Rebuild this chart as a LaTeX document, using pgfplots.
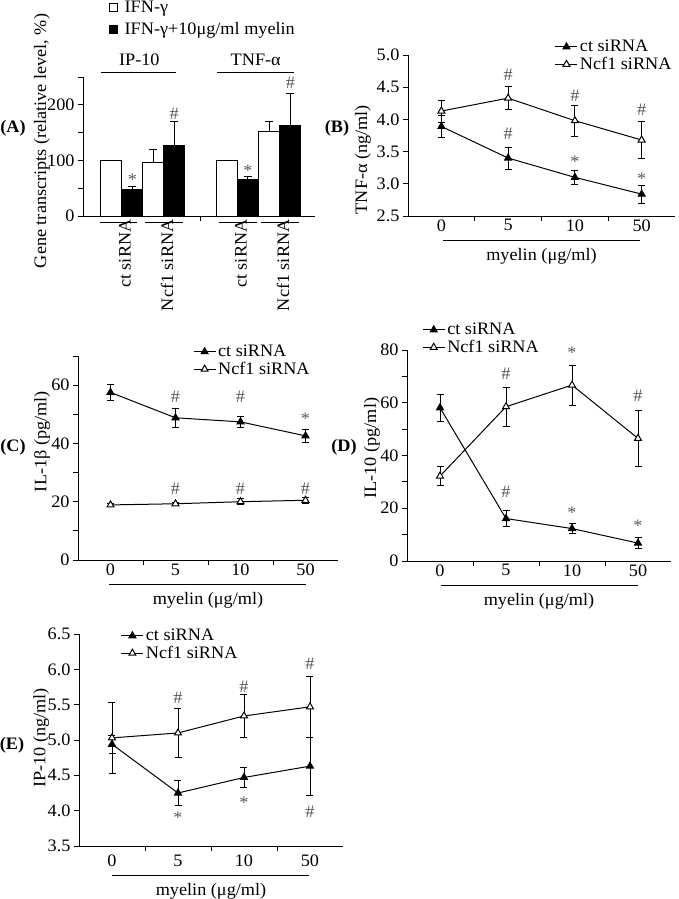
\documentclass[border=0pt]{standalone}
\usepackage{fontspec}
\setmainfont{Liberation Serif}[FakeStretch=1.04]
\usepackage{pgfplots}
\pgfplotsset{compat=1.18}
\newcommand\fsz{\fontsize{17.5}{21}\selectfont}
\definecolor{annot}{gray}{0.35}

\pgfplotsset{
  panel/.style={
    scale only axis, anchor=south west, clip=false,
    axis x line*=bottom, axis y line*=left,
    axis line style={line width=0.9pt,-},
    every tick/.style={black, line width=0.9pt},
    tick align=outside, major tick length=5pt, minor tick length=5pt,
    tick label style={font=\fsz},
    label style={font=\fsz},
    /pgf/number format/assume math mode=true,
    legend style={draw=none, fill=none, font=\fsz, inner sep=0pt, row sep=0pt},
    legend cell align=left,
  },
  dose/.style={
    xmin=-0.5, xmax=3.5,
    xtick={0.5,1.5,2.5}, xticklabels={,,},
    extra x ticks={0,1,2,3}, extra x tick labels={0,5,10,50},
    extra x tick style={major tick length=0pt},
    legend image code/.code={\draw[mark repeat=2,mark phase=2,##1] plot coordinates {(0pt,0pt) (11pt,0pt) (22pt,0pt)};},
    xlabel={\rule{197pt}{0.8pt}\\[-2pt]myelin (μg/ml)},
    xlabel style={align=center, anchor=north, inner sep=0pt, at={(axis description cs:0.5,0)}, yshift=-24pt},
  },
  ct/.style={black, line width=1pt, mark=triangle*, mark size=4pt, mark options={solid, fill=black},
    error bars/.cd, y dir=both, y explicit, error bar style={line width=0.9pt},
    error mark options={rotate=90, mark size=3.5pt, line width=0.9pt}},
  nc/.style={black, line width=1pt, mark=triangle*, mark size=4pt, mark options={solid, fill=white},
    error bars/.cd, y dir=both, y explicit, error bar style={line width=0.9pt},
    error mark options={rotate=90, mark size=3.5pt, line width=0.9pt}},
  bars/.style={ybar, bar width=1, bar shift=0pt, draw=black, line width=1pt,
    error bars/.cd, y dir=plus, y explicit, error bar style={line width=0.9pt},
    error mark options={rotate=90, mark size=4pt, line width=0.9pt}},
}
\tikzset{ann/.style={font=\fsz, text=annot, inner sep=0pt}, star/.style={ann, yshift=-2.7pt}}

\begin{document}
\begin{tikzpicture}
\useasboundingbox (0,0) rectangle (678pt,-899pt);

% (A) gene transcripts
\begin{axis}[panel, at={(83pt,-216pt)}, width=232pt, height=139pt,
  xmin=0, xmax=11, ymin=0, ymax=250,
  ytick={0,50,...,250}, yticklabels={0,,100,,200,},
  xtick={5.57}, xticklabels={},
  extra x ticks={1.8,3.8,7.3,9.3},
  extra x tick labels={ct siRNA,Ncf1 siRNA,ct siRNA,Ncf1 siRNA},
  extra x tick style={major tick length=0pt, xticklabel style={rotate=90, anchor=east, yshift=-4pt}},
  ylabel={Gene transcripts (relative level, \%)},
  ylabel style={at={(axis description cs:-0.177,0.54)}, anchor=center},
  legend style={at={(axis description cs:0.112,1.56)}, anchor=north west, row sep=4pt},
  legend image code/.code={\draw[#1, line width=1pt] (0pt,-4pt) rectangle (8pt,4pt); \path[draw=none, fill=none] (0pt,0pt) -- (13pt,0pt);},
]
\addplot[fill=white, bars] coordinates {(1.32,100) +- (0,0) (3.33,97) +- (0,22) (6.82,100) +- (0,0) (8.83,151.8) +- (0,18)};
\addplot[fill=black, bars] coordinates {(2.34,47) +- (0,7) (4.32,126.6) +- (0,43) (7.82,65) +- (0,6) (9.83,162) +- (0,58)};
\legend{IFN-γ, IFN-γ+10μg/ml myelin}
\draw[line width=0.9pt] (axis cs:0.84,258) -- (axis cs:4.41,258);
\draw[line width=0.9pt] (axis cs:6.37,258) -- (axis cs:10.0,258);
\node[font=\fsz] at (axis cs:2.67,281) {IP-10};
\node[font=\fsz] at (axis cs:8.19,281) {TNF-α};
\draw[line width=0.9pt] (axis cs:0.81,-12) -- (axis cs:2.57,-12);
\draw[line width=0.9pt] (axis cs:2.95,-12) -- (axis cs:4.76,-12);
\draw[line width=0.9pt] (axis cs:6.43,-12) -- (axis cs:8.24,-12);
\draw[line width=0.9pt] (axis cs:8.43,-12) -- (axis cs:10.24,-12);
\node[star] at (axis cs:2.34,69.6) {*};
\node[ann] at (axis cs:4.32,184.6) {\#};
\node[star] at (axis cs:7.82,86.5) {*};
\node[ann] at (axis cs:9.83,239) {\#};
\end{axis}

% (B) TNF-alpha
\begin{axis}[panel, dose, at={(408pt,-216pt)}, width=267pt, height=161pt,
  ymin=2.5, ymax=5.0, ytick={2.5,3,...,5}, yticklabels={2.5,3.0,3.5,4.0,4.5,5.0},
  ylabel={TNF-α (ng/ml)},
  ylabel style={at={(axis description cs:-0.169,0.35)}, anchor=center},
  legend style={at={(axis description cs:0.995,1.105)}, anchor=north east},
]
\addplot[ct] coordinates {(0,3.89) +- (0,0.17) (1,3.40) +- (0,0.17) (2,3.10) +- (0,0.11) (3,2.84) +- (0,0.14)};
\addplot[nc] coordinates {(0,4.13) +- (0,0.17) (1,4.33) +- (0,0.18) (2,3.98) +- (0,0.24) (3,3.68) +- (0,0.29)};
\legend{ct siRNA, Ncf1 siRNA}
\node[ann] at (axis cs:1,4.69) {\#};
\node[ann] at (axis cs:2,4.36) {\#};
\node[ann] at (axis cs:3,4.15) {\#};
\node[ann] at (axis cs:1,3.77) {\#};
\node[star] at (axis cs:2,3.39) {*};
\node[star] at (axis cs:3,3.12) {*};
\end{axis}

% (C) IL-1beta
\begin{axis}[panel, dose, at={(78pt,-560pt)}, width=260pt, height=204pt,
  ymin=0, ymax=70, ytick={0,10,...,70}, yticklabels={0,,20,,40,,60,},
  ylabel={IL-1β (pg/ml)},
  ylabel style={at={(axis description cs:-0.138,0.58)}, anchor=center},
  legend style={at={(axis description cs:0.442,1.064)}, anchor=north west},
]
\addplot[ct] coordinates {(0,57.5) +- (0,2.6) (1,48.8) +- (0,3.3) (2,47.4) +- (0,2.0) (3,42.6) +- (0,2.1)};
\addplot[nc] coordinates {(0,18.9) +- (0,0.5) (1,19.3) +- (0,0.6) (2,20.0) +- (0,1.0) (3,20.5) +- (0,1.0)};
\legend{ct siRNA, Ncf1 siRNA}
\node[ann] at (axis cs:1,56) {\#};
\node[ann] at (axis cs:2,56) {\#};
\node[star] at (axis cs:3,49.5) {*};
\node[ann] at (axis cs:1,24.6) {\#};
\node[ann] at (axis cs:2,24.6) {\#};
\node[ann] at (axis cs:3,24.6) {\#};
\end{axis}

% (D) IL-10
\begin{axis}[panel, dose, at={(407pt,-561pt)}, width=264pt, height=211pt,
  ymin=0, ymax=80, ytick={0,10,...,80}, yticklabels={0,,20,,40,,60,,80},
  ylabel={IL-10 (pg/ml)},
  ylabel style={at={(axis description cs:-0.133,0.535)}, anchor=center},
  legend style={at={(axis description cs:0.057,1.137)}, anchor=north west},
]
\addplot[ct] coordinates {(0,58.1) +- (0,5.2) (1,16.1) +- (0,3.0) (2,12.3) +- (0,2.0) (3,6.8) +- (0,2.0)};
\addplot[nc] coordinates {(0,32.2) +- (0,3.5) (1,58.5) +- (0,7.3) (2,66.7) +- (0,7.6) (3,46.5) +- (0,10.5)};
\legend{ct siRNA, Ncf1 siRNA}
\node[ann] at (axis cs:1,71.1) {\#};
\node[star] at (axis cs:2,80) {*};
\node[ann] at (axis cs:3,62.5) {\#};
\node[ann] at (axis cs:1,26.2) {\#};
\node[star] at (axis cs:2,19.2) {*};
\node[star] at (axis cs:3,14.4) {*};
\end{axis}

% (E) IP-10
\begin{axis}[panel, dose, at={(79pt,-846pt)}, width=264pt, height=212pt,
  ymin=3.5, ymax=6.5, ytick={3.5,4,...,6.5}, yticklabels={3.5,4.0,4.5,5.0,5.5,6.0,6.5},
  extra x tick style={major tick length=0pt, xticklabel style={yshift=-5pt}},
  xlabel style={yshift=-5pt},
  ylabel={IP-10 (ng/ml)},
  ylabel style={at={(axis description cs:-0.143,0.51)}, anchor=center},
  legend style={at={(axis description cs:0.158,1.033)}, anchor=north west},
]
\addplot[ct] coordinates {(0,4.94) +- (0,0.13) (1,4.25) +- (0,0.18) (2,4.47) +- (0,0.14) (3,4.63) +- (0,0.41)};
\addplot[nc] coordinates {(0,5.03) +- (0,0.50) (1,5.10) +- (0,0.35) (2,5.34) +- (0,0.31) (3,5.47) +- (0,0.43)};
\legend{ct siRNA, Ncf1 siRNA}
\node[ann] at (axis cs:1,5.60) {\#};
\node[ann] at (axis cs:2,5.75) {\#};
\node[ann] at (axis cs:3,6.08) {\#};
\node[star] at (axis cs:1,3.94) {*};
\node[star] at (axis cs:2,4.15) {*};
\node[ann] at (axis cs:3,3.99) {\#};
\end{axis}

\node[font=\fsz\bfseries] at (13pt,-128pt) {(A)};
\node[font=\fsz\bfseries] at (337pt,-128pt) {(B)};
\node[font=\fsz\bfseries] at (13pt,-447pt) {(C)};
\node[font=\fsz\bfseries] at (344pt,-447pt) {(D)};
\node[font=\fsz\bfseries] at (12pt,-745pt) {(E)};
\end{tikzpicture}
\end{document}
